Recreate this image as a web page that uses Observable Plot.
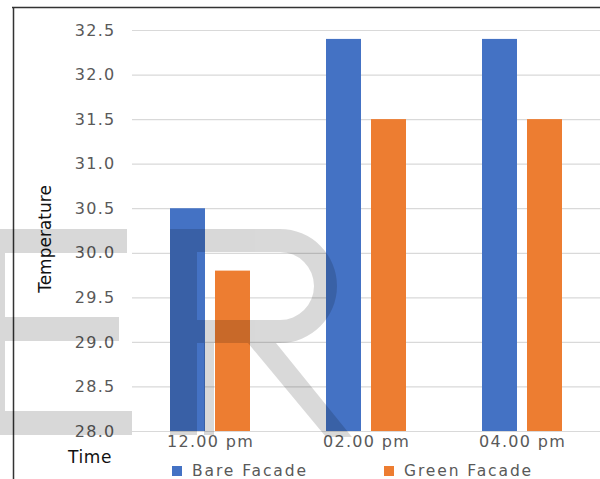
<!DOCTYPE html>
<html>
<head>
<meta charset="utf-8">
<script src="https://cdn.jsdelivr.net/npm/d3@7"></script>
<script src="https://cdn.jsdelivr.net/npm/@observablehq/plot@0.6"></script>
<style>
  html, body { margin: 0; padding: 0; background: #fff; }
  #chart { position: relative; width: 600px; height: 479px; overflow: hidden; }
  #chart svg { display: block; }
</style>
</head>
<body>
<div id="chart"></div>
<script>
// Surface temperature of a bare vs. green facade at three times of day
const times = ["12.00 pm", "02.00 pm", "04.00 pm"];
const series = ["Bare Facade", "Green Facade"];
const bareFacade = [30.5, 32.4, 32.4];
const greenFacade = [29.8, 31.5, 31.5];
const yTicks = [28.0, 28.5, 29.0, 29.5, 30.0, 30.5, 31.0, 31.5, 32.0, 32.5];
const seriesColors = ["#4472C4", "#ED7D31"];

const yLabel = "Temperature";
const xLabel = "Time";

// long table: one row per bar
const rows = times.flatMap((t, i) => [
  {time: t, series: series[0], value: bareFacade[i]},
  {time: t, series: series[1], value: greenFacade[i]}
]);

const yMin = yTicks[0];
const yMax = yTicks[yTicks.length - 1];

const svg = Plot.plot({
  width: 600,
  height: 479,
  marginTop: 30,
  marginBottom: 48,
  marginLeft: 132,
  marginRight: 0,
  style: {
    fontFamily: "DejaVu Sans",
    fontSize: "16px",
    letterSpacing: "1.3px",
    color: "#595959",
    background: "transparent",
    overflow: "visible"
  },
  fx: {domain: times, padding: 0, label: null, axis: "bottom", tickSize: 0, tickPadding: 4},
  x: {domain: series, paddingInner: 0.222, paddingOuter: 0.844, axis: null},
  y: {domain: [yMin, yMax], ticks: yTicks, tickFormat: d3.format(".1f"), tickSize: 0, tickPadding: 17, label: null},
  color: {domain: series, range: seriesColors},
  marks: [
    Plot.ruleY(yTicks, {stroke: "#d9d9d9", strokeWidth: 1.2}),
    Plot.barY(rows, {fx: "time", x: "series", y1: yMin, y2: "value", fill: "series"})
  ]
});

document.getElementById("chart").appendChild(svg);

const s = d3.select(svg);

// frame lines along the top and left edges
s.append("line").attr("x1", 12).attr("x2", 600).attr("y1", 7.5).attr("y2", 7.5)
  .attr("stroke", "#333").attr("stroke-width", 1.5);
s.append("line").attr("x1", 13.5).attr("x2", 13.5).attr("y1", 7).attr("y2", 479)
  .attr("stroke", "#333").attr("stroke-width", 1.5);

// axis titles
s.append("text")
  .attr("transform", "translate(51,239) rotate(-90)")
  .attr("text-anchor", "middle")
  .style("font-family", "DejaVu Sans").style("font-size", "17px").style("letter-spacing", "0px")
  .attr("fill", "#111")
  .text(yLabel);

s.append("text")
  .attr("x", 90).attr("y", 463)
  .attr("text-anchor", "middle")
  .style("font-family", "DejaVu Sans").style("font-size", "17px").style("letter-spacing", "0.6px")
  .attr("fill", "#111")
  .text(xLabel);

// legend along the bottom edge
const legendX = [172, 384];
const lg = s.append("g").attr("text-anchor", "start");
series.forEach((name, i) => {
  lg.append("rect").attr("x", legendX[i]).attr("y", 466).attr("width", 10).attr("height", 10)
    .attr("fill", seriesColors[i]);
  lg.append("text").attr("x", legendX[i] + 20).attr("y", 476)
    .attr("text-anchor", "start")
    .style("font-family", "DejaVu Sans").style("font-size", "15.5px").style("letter-spacing", "1.9px")
    .attr("fill", "#595959")
    .text(name);
});

// translucent watermark letters laid over the plot
const wm = s.append("g").attr("fill", "#000").attr("opacity", 0.15).attr("pointer-events", "none");
// partial letter at the left edge
wm.append("rect").attr("x", 0).attr("y", 229).attr("width", 127).attr("height", 24);
wm.append("rect").attr("x", 0).attr("y", 317).attr("width", 119).attr("height", 24);
wm.append("rect").attr("x", 0).attr("y", 411).attr("width", 132).attr("height", 24);
wm.append("rect").attr("x", 0).attr("y", 253).attr("width", 5).attr("height", 158);
// large "R"
wm.append("path").attr("d",
  "M170,229 H280 A57,57 0 0 1 280,343 H214 V435 H204 V343 H197 V435 H170 Z" +
  " M197,252 V320 H280 A34,34 0 0 0 280,252 Z" +
  " M248,343 H276 L352,437 H326 Z")
  .attr("fill-rule", "evenodd");
</script>
</body>
</html>
